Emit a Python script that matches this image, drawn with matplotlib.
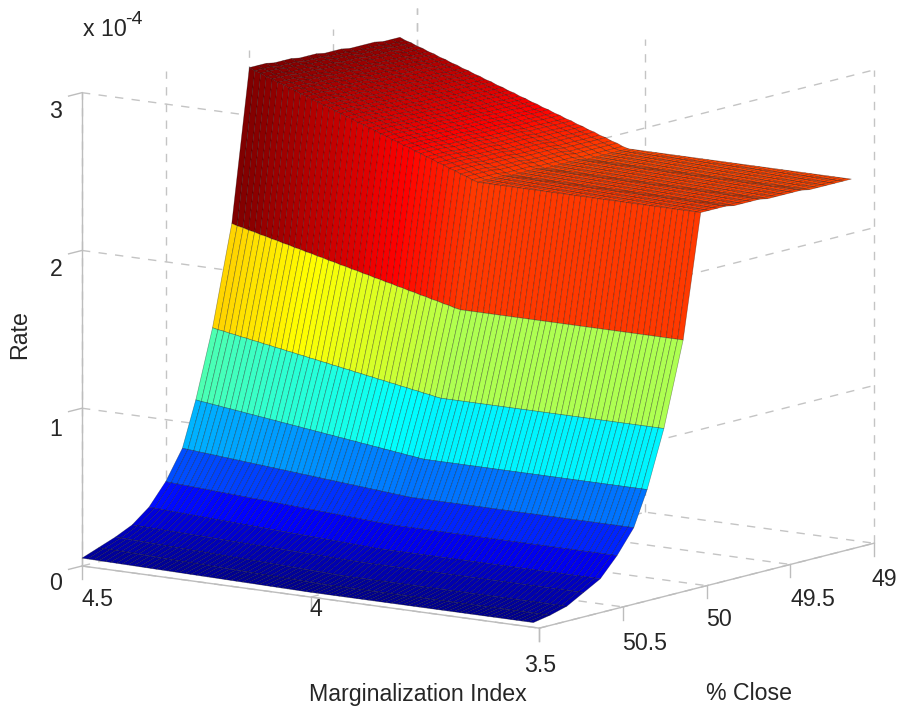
import matplotlib
matplotlib.use("Agg")
import matplotlib.pyplot as plt
import numpy as np
from matplotlib.colors import LinearSegmentedColormap
from mpl_toolkits.mplot3d import proj3d

plt.rcParams['font.family'] = ['Liberation Sans', 'DejaVu Sans']

# Marginalization Index columns of the mesh
mi = [4.500, 4.488, 4.475, 4.463, 4.450, 4.438, 4.425, 4.413,
      4.400, 4.388, 4.375, 4.363, 4.350, 4.338, 4.325, 4.313,
      4.300, 4.288, 4.275, 4.263, 4.250, 4.238, 4.225, 4.213,
      4.200, 4.188, 4.175, 4.163, 4.150, 4.138, 4.125, 4.113,
      4.100, 4.088, 4.075, 4.063, 4.050, 4.038, 4.025, 4.013,
      4.000, 3.988, 3.975, 3.963, 3.950, 3.938, 3.925, 3.913,
      3.900, 3.888, 3.875, 3.863, 3.850, 3.838, 3.825, 3.813,
      3.800, 3.788, 3.775, 3.763, 3.750, 3.738, 3.725, 3.713,
      3.700, 3.688, 3.675, 3.663, 3.650, 3.638, 3.625, 3.613,
      3.600, 3.588, 3.575, 3.563, 3.550, 3.538, 3.525, 3.513]

# % Close rows of the mesh
close = [51.0, 50.9, 50.8, 50.7, 50.6, 50.5, 50.4, 50.32, 50.22, 50.105, 50.0,
         49.95, 49.9, 49.85, 49.8, 49.75, 49.7, 49.65, 49.6, 49.55,
         49.5, 49.45, 49.4, 49.35, 49.3, 49.25, 49.2, 49.15, 49.1]

# Rate (x 1e-4) read along the MI = 4.5 edge and along the MI <= 4 part
rate_high_mi = [0.05, 0.09, 0.13, 0.18, 0.265, 0.40, 0.585, 0.87, 1.30, 1.93, 2.89,
                2.89, 2.89, 2.88, 2.88, 2.88, 2.87, 2.87, 2.87, 2.86,
                2.86, 2.86, 2.85, 2.85, 2.85, 2.85, 2.84, 2.84, 2.84]
rate_low_mi = [0.03, 0.05, 0.08, 0.14, 0.20, 0.32, 0.47, 0.69, 1.05, 1.58, 2.36,
               2.36, 2.36, 2.36, 2.35, 2.35, 2.35, 2.35, 2.34, 2.34,
               2.34, 2.34, 2.34, 2.33, 2.33, 2.33, 2.33, 2.33, 2.33]

# How far each MI column sits towards the high MI edge
mi_weight = [1.00, 0.97, 0.95, 0.92, 0.90, 0.87, 0.85, 0.82,
             0.80, 0.77, 0.75, 0.72, 0.70, 0.67, 0.65, 0.62,
             0.60, 0.57, 0.55, 0.52, 0.50, 0.47, 0.45, 0.42,
             0.40, 0.37, 0.35, 0.32, 0.30, 0.27, 0.25, 0.22,
             0.20, 0.17, 0.15, 0.12, 0.10, 0.07, 0.05, 0.02,
             0.00, 0.00, 0.00, 0.00, 0.00, 0.00, 0.00, 0.00,
             0.00, 0.00, 0.00, 0.00, 0.00, 0.00, 0.00, 0.00,
             0.00, 0.00, 0.00, 0.00, 0.00, 0.00, 0.00, 0.00,
             0.00, 0.00, 0.00, 0.00, 0.00, 0.00, 0.00, 0.00,
             0.00, 0.00, 0.00, 0.00, 0.00, 0.00, 0.00, 0.00]

mi_ticks = [4.5, 4, 3.5]
close_ticks = [51, 50.5, 50, 49.5, 49]
rate_ticks = [0, 1, 2, 3]

W, H = 898, 708
GRID = '#c4c4c4'
AXIS = '#bdbdbd'
TEXT = '#262626'

# matlab flavour of jet, the matplotlib one is a bit different
jet = LinearSegmentedColormap.from_list('matlab_jet', [
    (0, (0, 0, 0.5)), (0.125, (0, 0, 1)), (0.375, (0, 1, 1)),
    (0.625, (1, 1, 0)), (0.875, (1, 0, 0)), (1, (0.5, 0, 0))])

X, Y = np.meshgrid(mi, close)
hi = np.array(rate_high_mi)[:, None]
lo = np.array(rate_low_mi)[:, None]
Z = lo + (hi - lo) * np.array(mi_weight)[None, :]

# one colour per face, taken from the corner on the 49 side of it
colors = jet(Z[1:, :-1] / max(rate_high_mi))

fig = plt.figure(figsize=(W / 100, H / 100), dpi=100)
ax = fig.add_axes([0, 0, 1, 1], projection='3d', computed_zorder=False)
ax.set_proj_type('ortho')
ax.set_box_aspect((1, 1, 0.85))
ax.view_init(elev=10.7, azim=-53.8)
ax.set_xlim(4.5, 3.5)
ax.set_ylim(51, 49)
ax.set_zlim(0, 3)
ax.set_axis_off()
ax.patch.set_alpha(0)


def seg(xs, ys, zs, dashed=True, color=GRID, z=1):
    ls = (0, (6, 6)) if dashed else '-'
    ax.plot(xs, ys, zs, color=color, lw=1.0, ls=ls, zorder=z)


# rate gridlines sit on the planes through the front corner, as in the original
for r in rate_ticks[1:]:
    seg([4.5, 3.5], [51, 51], [r, r])
    seg([3.5, 3.5], [51, 49], [r, r])
for c in close_ticks:
    seg([4.5, 3.5], [c, c], [0, 0])
    seg([4.5, 4.5], [c, c], [0, 3])
for m in mi_ticks:
    seg([m, m], [51, 49], [0, 0])
    seg([m, m], [49, 49], [0, 3])

# solid axis lines and tick marks
seg([4.5, 3.5], [51, 51], [0, 0], False, AXIS, 2)
seg([3.5, 3.5], [51, 49], [0, 0], False, AXIS, 2)
seg([4.5, 4.5], [51, 51], [0, 3], False, AXIS, 2)
for m in mi_ticks:
    seg([m, m], [51, 51], [0, -0.08], False, AXIS, 2)
for c in close_ticks:
    seg([3.5, 3.5], [c, c], [0, -0.08], False, AXIS, 2)
for r in rate_ticks:
    seg([4.5, 4.5], [51, 51.08], [r, r], False, AXIS, 2)

surf = ax.plot_surface(X, Y, Z, rstride=1, cstride=1, facecolors=colors,
                       shade=False, zorder=5)
surf.set_edgecolor((0, 0, 0, 0.38))
surf.set_linewidth(0.45)


def to_px(x, y, z):
    xp, yp, _ = proj3d.proj_transform(x, y, z, ax.get_proj())
    return ax.transData.transform((xp, yp))


# fit the axes box so the floor corners land where they should
ax.apply_aspect()
side = min(W, H) * 792 / (to_px(3.5, 49, 0)[0] - to_px(4.5, 51, 0)[0])
ax.set_position([0, 0, side / W, side / H])
ax.apply_aspect()
p = to_px(4.5, 51, 0)
ax.set_position([(82 - p[0]) / W, (H - 566 - p[1]) / H, side / W, side / H])
ax.apply_aspect()


def label(x, y, s, size=16.7, **kw):
    fig.text(x / W, 1 - (y + 2) / H, s, fontsize=size, color=TEXT,
             ha='center', va='center', **kw)


for r, y in zip(rate_ticks, [582, 427, 267, 110]):
    label(56, y, str(r))
for m, (x, y) in zip(mi_ticks, [(98, 598), (316, 608), (540, 663)]):
    label(x, y, str(m))
for c, (x, y) in zip(close_ticks[1:], [(645, 641), (719, 618), (813, 597), (884, 577)]):
    label(x, y, str(c))

label(418, 692, 'Marginalization Index')
label(749, 692, '% Close')
label(20, 333, 'Rate', rotation=90)
label(105, 28, 'x 10')
label(134, 17, '-4', size=14)

fig.savefig('out.png', dpi=100)
